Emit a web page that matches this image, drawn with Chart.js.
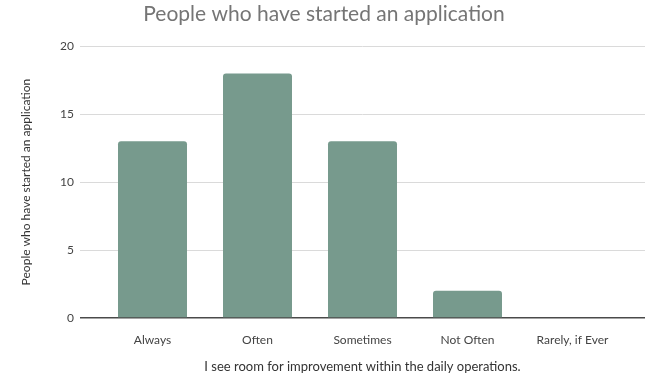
<!DOCTYPE html>
<html>
<head>
<meta charset="utf-8">
<script src="https://cdn.jsdelivr.net/npm/chart.js@4.4.1/dist/chart.umd.min.js"></script>
<style>
  html, body { margin: 0; padding: 0; background: #fff; }
  #wrap { width: 648px; height: 378px; }
</style>
</head>
<body>
<div id="wrap"><canvas id="grafico"></canvas></div>
<script>
const categorias = ['Always', 'Often', 'Sometimes', 'Not Often', 'Rarely, if Ever'];
const pessoas = [13, 18, 13, 2, 0];
const ticksY = [0, 5, 10, 15, 20];

const corBarra = '#779a8d';
const corGrade = '#dadada';
const corZero = '#4a4a4a';

const ctx = document.getElementById('grafico');

new Chart(ctx, {
  type: 'bar',
  data: {
    labels: categorias,
    datasets: [{
      label: 'People who have started an application',
      data: pessoas,
      backgroundColor: corBarra,
      borderRadius: { topLeft: 3, topRight: 3 },
      borderSkipped: 'bottom',
      barPercentage: 0.657,
      categoryPercentage: 1
    }]
  },
  options: {
    responsive: true,
    maintainAspectRatio: false,
    animation: false,
    layout: { padding: 0 },
    plugins: {
      legend: { display: false },
      tooltip: { enabled: false },
      title: {
        display: true,
        text: 'People who have started an application',
        color: '#757575',
        font: { family: 'Lato', size: 21, weight: 'normal' },
        padding: { top: 2, bottom: 19 }
      }
    },
    scales: {
      x: {
        grid: { display: false },
        border: { display: false },
        ticks: {
          color: '#444',
          font: { family: 'Lato', size: 12 },
          padding: 7,
          maxRotation: 0
        },
        title: {
          display: true,
          text: 'I see room for improvement within the daily operations.',
          color: '#333',
          font: { family: 'Lato', size: 13 },
          padding: { top: 0, bottom: 3 }
        },
        afterFit: (escala) => { escala.height = 60; }
      },
      y: {
        min: 0,
        max: 20,
        afterBuildTicks: (escala) => { escala.ticks = ticksY.map(v => ({ value: v })); },
        grid: {
          color: (c) => c.tick && c.tick.value === 0 ? corZero : corGrade,
          lineWidth: (c) => c.tick && c.tick.value === 0 ? 1.5 : 1,
          tickColor: (c) => c.tick && c.tick.value === 0 ? corZero : corGrade,
          tickLength: 20
        },
        border: { display: false },
        ticks: {
          color: '#444',
          font: { family: 'Lato', size: 12 },
          padding: 6
        },
        title: {
          display: true,
          text: 'People who have started an application',
          color: '#333',
          font: { family: 'Lato', size: 12 },
          padding: { top: 19, bottom: 0 }
        },
        afterFit: (escala) => { escala.width = 100; }
      },
      // eixo só para prolongar as linhas da grade à direita
      y2: {
        position: 'right',
        min: 0,
        max: 20,
        afterBuildTicks: (escala) => { escala.ticks = ticksY.map(v => ({ value: v })); },
        grid: {
          drawOnChartArea: false,
          tickColor: (c) => c.tick && c.tick.value === 0 ? corZero : corGrade,
          lineWidth: (c) => c.tick && c.tick.value === 0 ? 1.5 : 1,
          tickLength: 20
        },
        border: { display: false },
        ticks: { display: false },
        afterFit: (escala) => { escala.width = 23; }
      }
    }
  }
});
</script>
</body>
</html>
